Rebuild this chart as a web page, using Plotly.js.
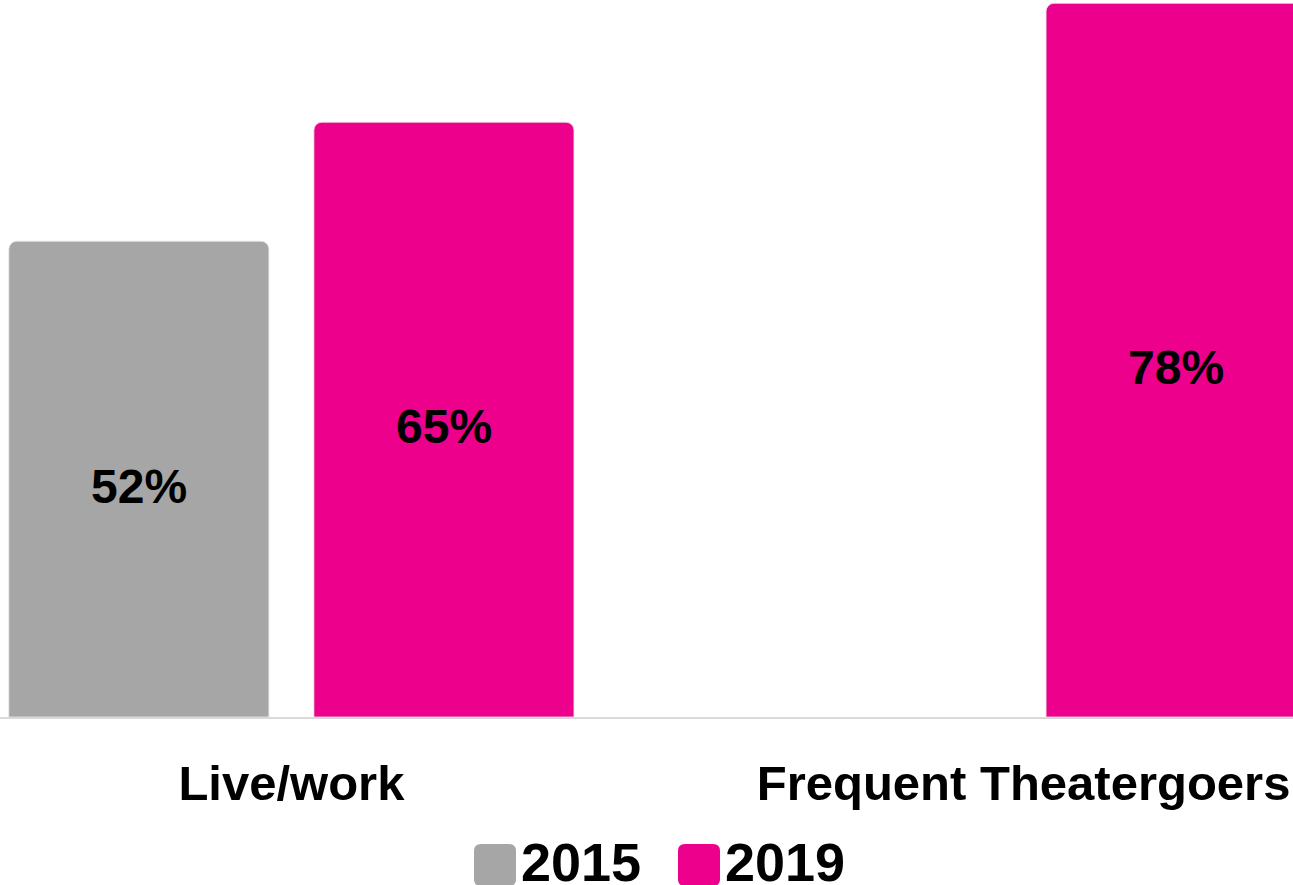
<!DOCTYPE html>
<html>
<head>
<meta charset="utf-8">
<script src="https://cdn.plot.ly/plotly-3.0.1.min.js"></script>
<style>html,body{margin:0;padding:0;background:#fff;}#chart{width:1293px;height:885px;}</style>
</head>
<body>
<div id="chart"></div>
<script>
const categories = ["Live/work", "Frequent Theatergoers"];
const values2015 = [52, null];
const values2019 = [65, 78];
const seriesNames = ["2015", "2019"];
const seriesColors = ["#A6A6A6", "#EC008C"];

const W = 1293, H = 885, B = 168;
const PH = H - B;
const fontFam = "Liberation Sans, Arial, sans-serif";

function pct(v){ return v == null ? "" : v + "%"; }

const seriesValues = [values2015, values2019];
const traces = seriesValues.map((vals, i) => ({
  type: "bar",
  name: seriesNames[i],
  x: categories,
  y: vals,
  marker: {color: seriesColors[i], line: {width: 1, color: "rgba(230,230,230,0.8)"}},
  hoverinfo: "skip",
  showlegend: false
}));

function px2x(px){ return px / W; }
function px2y(py){ return (PH - py) / PH; }
function roundRect(x0, x1, y0, y1, r){
  const X0 = px2x(x0), X1 = px2x(x1), Y0 = px2y(y0), Y1 = px2y(y1);
  const rx = r / W, ry = r / PH;
  return `M${X0 + rx},${Y0} L${X1 - rx},${Y0} Q${X1},${Y0} ${X1},${Y0 - ry} L${X1},${Y1 + ry} Q${X1},${Y1} ${X1 - rx},${Y1} L${X0 + rx},${Y1} Q${X0},${Y1} ${X0},${Y1 + ry} L${X0},${Y0 - ry} Q${X0},${Y0} ${X0 + rx},${Y0} Z`;
}

const legendBoxes = [[474, 516], [678, 720]];
const legendText = [519, 723];
const shapes = legendBoxes.map((b, i) => ({
  type: "path", xref: "paper", yref: "paper",
  path: roundRect(b[0], b[1], 844, 886, 7),
  fillcolor: seriesColors[i], line: {width: 0}
}));
const annotations = seriesNames.map((n, i) => ({
  xref: "paper", yref: "paper", x: px2x(legendText[i]), y: px2y(862),
  xanchor: "left", yanchor: "middle", showarrow: false, text: n,
  font: {family: fontFam, size: 54, color: "#000", weight: 700}
}));

// value labels, centred in each bar
const barOffset = [-152.5, 152.5];
seriesValues.forEach((vals, i) => {
  vals.forEach((v, j) => {
    if (v == null) return;
    annotations.push({
      x: categories[j], y: v / 2, xref: "x", yref: "y",
      xshift: barOffset[i], yshift: -7,
      showarrow: false, text: pct(v),
      xanchor: "center", yanchor: "middle",
      font: {family: fontFam, size: 48, color: "#000", weight: 700}
    });
  });
});

const layout = {
  width: W, height: H,
  margin: {l: 0, r: 0, t: 0, b: B},
  paper_bgcolor: "#fff", plot_bgcolor: "#fff",
  barmode: "group",
  bargap: 0.1667,
  bargroupgap: 0.1475,
  barcornerradius: 8,
  showlegend: false,
  xaxis: {
    type: "category",
    range: [-0.398, 1.368],
    showgrid: false, zeroline: false,
    showline: true, linecolor: "#D9D9D9", linewidth: 2, layer: "above traces",
    ticks: "", ticklabelstandoff: 22,
    tickfont: {family: fontFam, size: 49, color: "#000", weight: 700},
    fixedrange: true
  },
  yaxis: {
    range: [0, 78.36],
    visible: false, showgrid: false, zeroline: false, fixedrange: true
  },
  shapes: shapes,
  annotations: annotations,
  font: {family: fontFam}
};

Plotly.newPlot("chart", traces, layout, {displayModeBar: false, staticPlot: true});
</script>
</body>
</html>
